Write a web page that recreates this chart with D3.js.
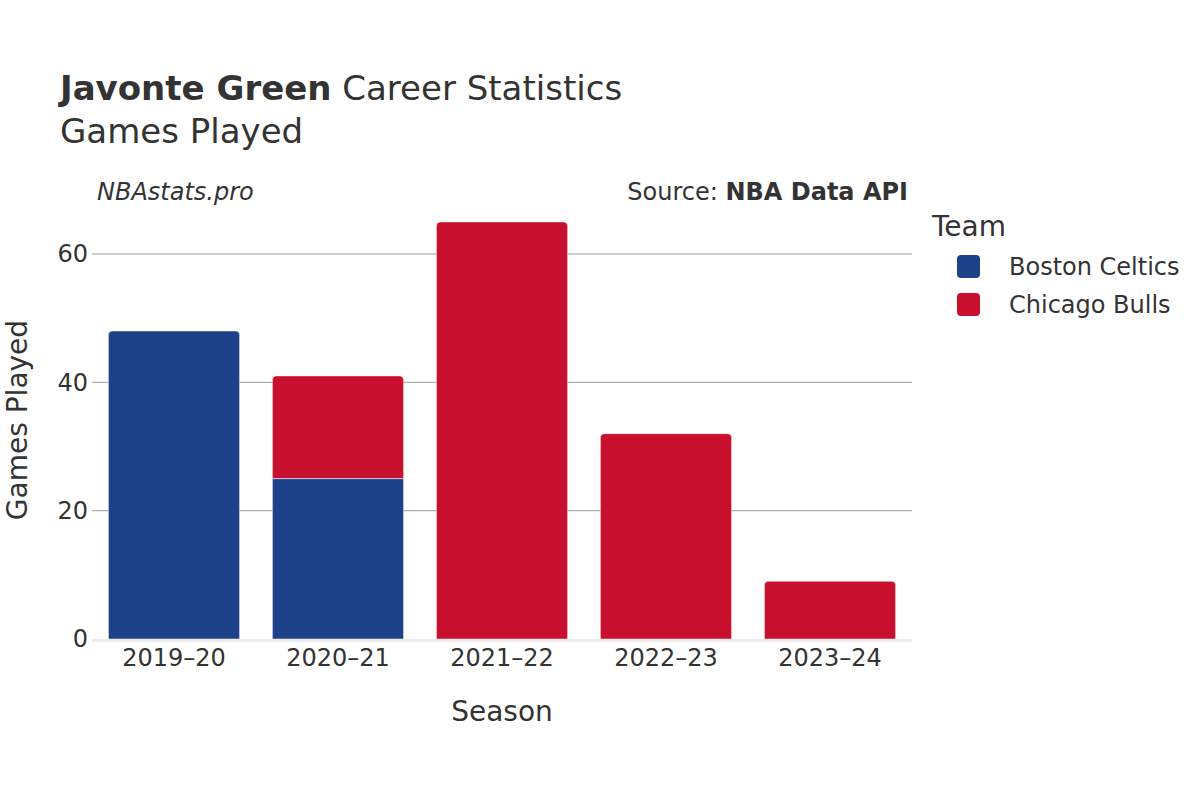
<!DOCTYPE html>
<html>
<head>
<meta charset="utf-8">
<script src="https://cdn.jsdelivr.net/npm/d3@7"></script>
<style>
  body { margin: 0; background: #fff; }
  text { font-family: "DejaVu Sans", sans-serif; fill: #333; }
</style>
</head>
<body>
<svg id="chart" width="1200" height="800"></svg>
<script>
// data
var seasons = ["2019–20", "2020–21", "2021–22", "2022–23", "2023–24"];
var teams = ["Boston Celtics", "Chicago Bulls"];
var teamColors = ["#1d428a", "#c8102e"];
var celticsGames = [48, 25, 0, 0, 0];
var bullsGames = [0, 16, 65, 32, 9];
var yTicks = [0, 20, 40, 60];

var svg = d3.select("#chart");
var margin = {left: 92, right: 912, top: 190, bottom: 639};

var x = d3.scaleBand()
  .domain(seasons)
  .range([margin.left, margin.right])
  .paddingInner(0.2)
  .paddingOuter(0.1);

var y = d3.scaleLinear()
  .domain([0, 60])
  .range([margin.bottom, 254]);

// gridlines
svg.append("g")
  .selectAll("line")
  .data(yTicks.filter(function(d) { return d > 0; }))
  .enter().append("line")
  .attr("x1", margin.left).attr("x2", margin.right)
  .attr("y1", function(d) { return y(d); })
  .attr("y2", function(d) { return y(d); })
  .style("stroke", "#9a9a9a")
  .style("stroke-width", 1);

// stack the series
var rows = seasons.map(function(s, i) {
  return {season: s, "Boston Celtics": celticsGames[i], "Chicago Bulls": bullsGames[i]};
});
var stack = d3.stack().keys(teams)(rows);

// top segment gets rounded corners
function topIndex(row) {
  var idx = -1;
  teams.forEach(function(t, k) { if (row[t] > 0) idx = k; });
  return idx;
}

function barPath(x0, y0, w, h, r) {
  if (r <= 0) return "M" + x0 + "," + y0 + "h" + w + "v" + h + "h" + (-w) + "Z";
  return "M" + x0 + "," + (y0 + h) +
    "V" + (y0 + r) +
    "Q" + x0 + "," + y0 + " " + (x0 + r) + "," + y0 +
    "H" + (x0 + w - r) +
    "Q" + (x0 + w) + "," + y0 + " " + (x0 + w) + "," + (y0 + r) +
    "V" + (y0 + h) + "Z";
}

stack.forEach(function(layer, k) {
  svg.append("g")
    .selectAll("path")
    .data(layer.filter(function(d) { return d[1] - d[0] > 0; }))
    .enter().append("path")
    .attr("d", function(d) {
      var x0 = x(d.data.season);
      var y0 = y(d[1]);
      var h = y(d[0]) - y(d[1]);
      var r = topIndex(d.data) === k ? 4 : 0;
      return barPath(x0, y0, x.bandwidth(), h, r);
    })
    .style("fill", teamColors[k])
    .style("stroke", "#fff")
    .style("stroke-width", 0.5);
});

// zero line
svg.append("line")
  .attr("x1", margin.left).attr("x2", margin.right)
  .attr("y1", y(0) + 1.5).attr("y2", y(0) + 1.5)
  .style("stroke", "#ebebeb")
  .style("stroke-width", 3);

// y axis
var yAxis = svg.append("g")
  .attr("transform", "translate(" + margin.left + ",0)")
  .call(d3.axisLeft(y).tickValues(yTicks).tickSize(0).tickPadding(4));
yAxis.select(".domain").remove();
yAxis.selectAll("text")
  .style("font-size", "24px")
  .style("font-family", "DejaVu Sans")
  .style("fill", "#333");

// x axis
var xAxis = svg.append("g")
  .attr("transform", "translate(0," + y(0) + ")")
  .call(d3.axisBottom(x).tickSize(0).tickPadding(10));
xAxis.select(".domain").remove();
xAxis.selectAll("text")
  .style("font-size", "24px")
  .style("font-family", "DejaVu Sans")
  .style("fill", "#333")
  .attr("dy", "0.71em");

// axis titles
svg.append("text")
  .attr("x", (margin.left + margin.right) / 2)
  .attr("y", 721)
  .attr("text-anchor", "middle")
  .style("font-size", "28px")
  .text("Season");

svg.append("text")
  .attr("transform", "translate(27,420) rotate(-90)")
  .attr("text-anchor", "middle")
  .style("font-size", "28px")
  .text("Games Played");

// title
var title = svg.append("text")
  .attr("x", 60).attr("y", 100)
  .style("font-size", "34px");
title.append("tspan").style("font-weight", "bold").text("Javonte Green");
title.append("tspan").text(" Career Statistics");

svg.append("text")
  .attr("x", 60).attr("y", 143)
  .style("font-size", "34px")
  .text("Games Played");

// annotations
svg.append("text")
  .attr("x", 97).attr("y", 200)
  .style("font-size", "24px")
  .style("font-style", "italic")
  .text("NBAstats.pro");

var src = svg.append("text")
  .attr("x", 908).attr("y", 200)
  .attr("text-anchor", "end")
  .style("font-size", "24px");
src.append("tspan").text("Source: ");
src.append("tspan").style("font-weight", "bold").text("NBA Data API");

// legend
svg.append("text")
  .attr("x", 932).attr("y", 236)
  .style("font-size", "28px")
  .text("Team");

var legend = svg.append("g")
  .selectAll("g")
  .data(teams)
  .enter().append("g")
  .attr("transform", function(d, i) { return "translate(957," + (266 + i * 38) + ")"; });

legend.append("rect")
  .attr("x", 0).attr("y", -11)
  .attr("width", 23).attr("height", 23)
  .attr("rx", 4)
  .style("fill", function(d, i) { return teamColors[i]; });

legend.append("text")
  .attr("x", 52).attr("y", 9)
  .style("font-size", "24px")
  .text(function(d) { return d; });
</script>
</body>
</html>
